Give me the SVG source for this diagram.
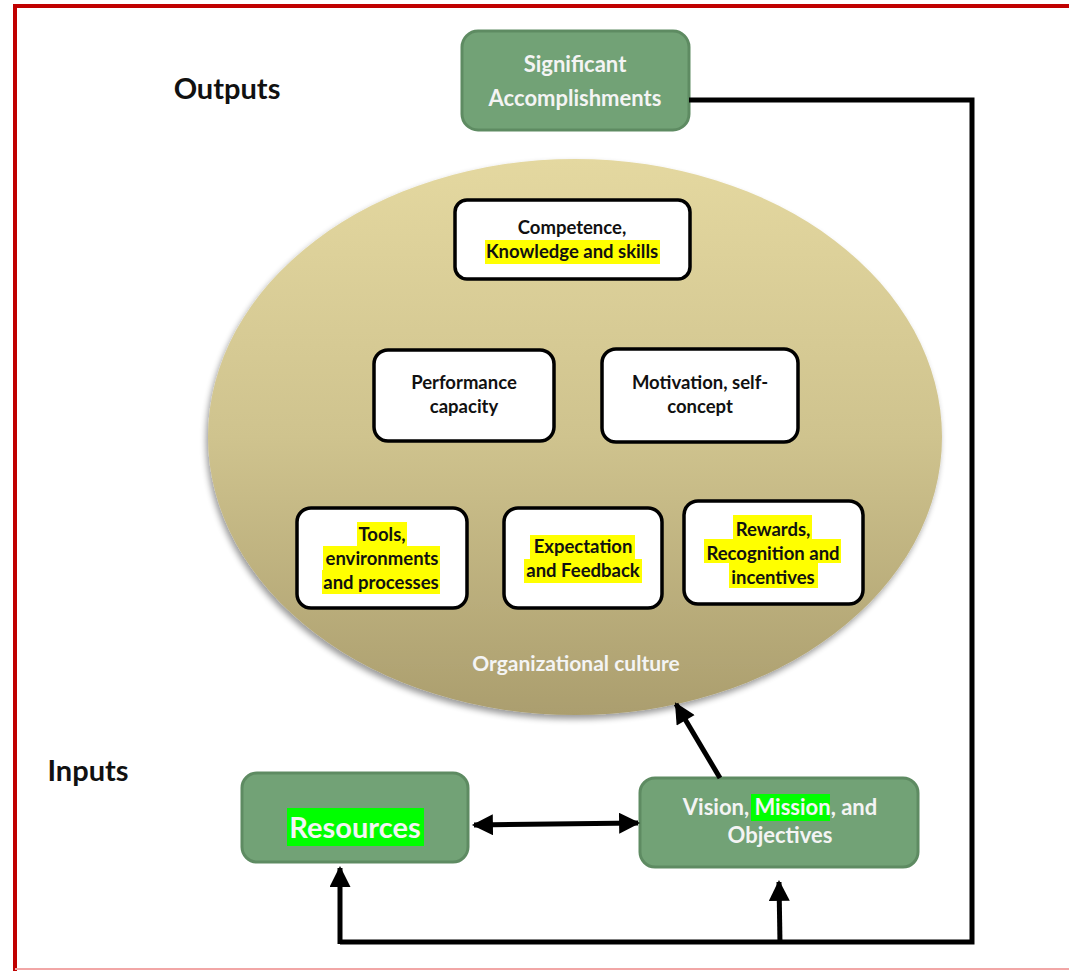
<svg xmlns="http://www.w3.org/2000/svg" width="1069" height="971" viewBox="0 0 1069 971">
<defs>
<linearGradient id="ell" x1="0" y1="0" x2="0" y2="1">
<stop offset="0" stop-color="#e4d8a0"/>
<stop offset="0.5" stop-color="#cfc38e"/>
<stop offset="1" stop-color="#ab9e6e"/>
</linearGradient>
<filter id="sh" x="-10%" y="-10%" width="130%" height="130%">
<feGaussianBlur in="SourceAlpha" stdDeviation="3"/>
<feOffset dx="-2" dy="4" result="b"/>
<feComponentTransfer><feFuncA type="linear" slope="0.4"/></feComponentTransfer>
<feMerge><feMergeNode/><feMergeNode in="SourceGraphic"/></feMerge>
</filter>
<marker id="ah" viewBox="0 0 10 10" refX="9" refY="5" markerWidth="4.6" markerHeight="4.2" orient="auto-start-reverse" markerUnits="strokeWidth">
<path d="M0,0 L10,5 L0,10 z" fill="#000"/>
</marker>
</defs>
<style>
.green{fill:#72a276;stroke:#5e8b62;stroke-width:3}
.white{fill:#fff;stroke:#000;stroke-width:3.5}
.t{font-family:Lato,"Liberation Sans",sans-serif;font-weight:bold;text-anchor:middle}
.dark{fill:#111;font-size:18.5px}
.lt{fill:#f4f4f4}
.hl{fill:#ffff00}
.hg{fill:#00ff00}
.conn{fill:none;stroke:#000;stroke-width:5}
</style>
<rect x="0" y="0" width="1069" height="971" fill="#fff"/>
<path d="M15,971 L15,6 L1069,6" fill="none" stroke="#c00000" stroke-width="4"/>
<line x1="15" y1="969" x2="1069" y2="969" stroke="#f2a6a6" stroke-width="2"/>

<text class="t" x="227" y="99" font-size="29" fill="#111">Outputs</text>
<text class="t" x="88" y="781" font-size="29" fill="#111">Inputs</text>

<g id="culture">
<ellipse cx="575" cy="437" rx="367" ry="278" fill="url(#ell)" filter="url(#sh)"/>
<text class="t lt" x="576" y="671" font-size="21">Organizational culture</text>
</g>

<g id="accomplishments">
<rect class="green" x="462" y="31" width="227" height="99" rx="16"/>
<text class="t lt" x="575" y="72" font-size="22">Significant</text>
<text class="t lt" x="575" y="106" font-size="22">Accomplishments</text>
</g>

<g id="competence">
<rect class="white" x="455" y="200" width="235" height="79" rx="12"/>
<rect class="hl" x="485" y="240" width="175" height="24"/>
<text class="t dark" x="572" y="234">Competence,</text>
<text class="t dark" x="572" y="258">Knowledge and skills</text>
</g>

<g id="performance">
<rect class="white" x="374" y="350" width="180" height="91" rx="14"/>
<text class="t dark" x="464" y="389">Performance</text>
<text class="t dark" x="464" y="413">capacity</text>
</g>

<g id="motivation">
<rect class="white" x="602" y="349" width="196" height="93" rx="14"/>
<text class="t dark" x="700" y="389">Motivation, self-</text>
<text class="t dark" x="700" y="413">concept</text>
</g>

<g id="tools">
<rect class="white" x="297" y="508" width="170" height="100" rx="14"/>
<rect class="hl" x="357" y="522" width="50" height="24"/>
<rect class="hl" x="323" y="546" width="117" height="24"/>
<rect class="hl" x="322" y="570" width="118" height="24"/>
<text class="t dark" x="382" y="541">Tools,</text>
<text class="t dark" x="382" y="565">environments</text>
<text class="t dark" x="381" y="589">and processes</text>
</g>

<g id="expectation">
<rect class="white" x="504" y="508" width="158" height="100" rx="14"/>
<rect class="hl" x="530" y="535" width="105" height="24"/>
<rect class="hl" x="524" y="559" width="118" height="24"/>
<text class="t dark" x="583" y="553">Expectation</text>
<text class="t dark" x="583" y="577">and Feedback</text>
</g>

<g id="rewards">
<rect class="white" x="684" y="501" width="179" height="103" rx="14"/>
<rect class="hl" x="733" y="515" width="79" height="24"/>
<rect class="hl" x="704" y="539" width="137" height="24"/>
<rect class="hl" x="729" y="563" width="89" height="25"/>
<text class="t dark" x="773" y="536">Rewards,</text>
<text class="t dark" x="773" y="560">Recognition and</text>
<text class="t dark" x="773" y="584">incentives</text>
</g>

<g id="resources">
<rect class="green" x="242" y="773" width="226" height="89" rx="15"/>
<rect class="hg" x="287" y="808" width="137" height="38"/>
<text class="t lt" x="355" y="838" font-size="29">Resources</text>
</g>

<g id="vision">
<rect class="green" x="640" y="778" width="278" height="89" rx="15"/>
<rect class="hg" x="751" y="794" width="79" height="27"/>
<text class="t lt" x="780" y="815" font-size="22">Vision, Mission, and</text>
<text class="t lt" x="780" y="843" font-size="22">Objectives</text>
</g>

<g id="connectors">
<polyline class="conn" points="689,100 972,100 972,942 340,942"/>
<line class="conn" x1="340" y1="944" x2="340" y2="868" marker-end="url(#ah)"/>
<line class="conn" x1="780" y1="944" x2="779" y2="882" marker-end="url(#ah)"/>
<line class="conn" x1="474" y1="825" x2="638" y2="823" marker-start="url(#ah)" marker-end="url(#ah)"/>
<line class="conn" x1="720" y1="778" x2="676" y2="704" marker-end="url(#ah)"/>
</g>
</svg>
